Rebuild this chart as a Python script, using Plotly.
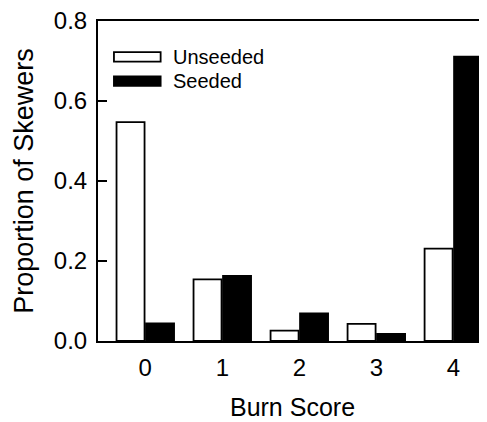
import plotly.graph_objects as go

categories = [0, 1, 2, 3, 4]
tick_labels = ["0", "1", "2", "3", "4"]
unseeded = [0.547, 0.154, 0.026, 0.043, 0.231]
seeded = [0.044, 0.163, 0.069, 0.018, 0.711]
series_names = ["Unseeded", "Seeded"]

FONT = "Liberation Sans, Arial, sans-serif"

fig = go.Figure()
fig.add_trace(go.Bar(
    x=categories, y=unseeded, name=series_names[0],
    marker=dict(color="white", line=dict(color="black", width=1.8)),
    showlegend=False,
))
fig.add_trace(go.Bar(
    x=categories, y=seeded, name=series_names[1],
    marker=dict(color="black", line=dict(color="black", width=1.8)),
    showlegend=False,
))

# manual legend (long flat swatches like the original)
legend_rows = [(0.888, "white"), (0.812, "black")]
for (yc, fill), name in zip(legend_rows, series_names):
    fig.add_shape(type="rect", xref="paper", yref="paper",
                  x0=0.041, x1=0.161, y0=yc - 0.015, y1=yc + 0.015,
                  fillcolor=fill, line=dict(color="black", width=1.8))
    fig.add_annotation(xref="paper", yref="paper", x=0.188, y=yc,
                       text=name, showarrow=False, xanchor="left",
                       yanchor="middle",
                       font=dict(family=FONT, size=20, color="black"))

# page body has an 8px margin, so the figure is 8px smaller than the window
fig.update_layout(
    width=479, height=414,
    margin=dict(l=90, r=0, t=13, b=81),
    paper_bgcolor="white", plot_bgcolor="white",
    barmode="group", bargap=0.234, bargroupgap=0.05,
    font=dict(family=FONT, color="black"),
    xaxis=dict(
        range=[-0.614, 4.437], tickvals=categories, ticktext=tick_labels,
        showline=True, linecolor="black", linewidth=2, mirror=True,
        ticks="", showgrid=False, zeroline=False, automargin=False,
        tickfont=dict(size=24), ticklabelstandoff=4,
        title=dict(text="Burn Score", font=dict(size=25), standoff=19),
    ),
    yaxis=dict(
        range=[0, 0.8], tickvals=[0, 0.2, 0.4, 0.6, 0.8],
        ticktext=["0.0", "0.2", "0.4", "0.6", "0.8"],
        showline=True, linecolor="black", linewidth=2, mirror=False,
        ticks="inside", ticklen=9, tickwidth=2, tickcolor="black",
        showgrid=False, zeroline=False, automargin=False,
        tickfont=dict(size=24), ticklabelstandoff=4,
        ticklabeloverflow="allow",
        title=dict(text="Proportion of Skewers", font=dict(size=27), standoff=12),
    ),
)

fig.write_html("out.html")
